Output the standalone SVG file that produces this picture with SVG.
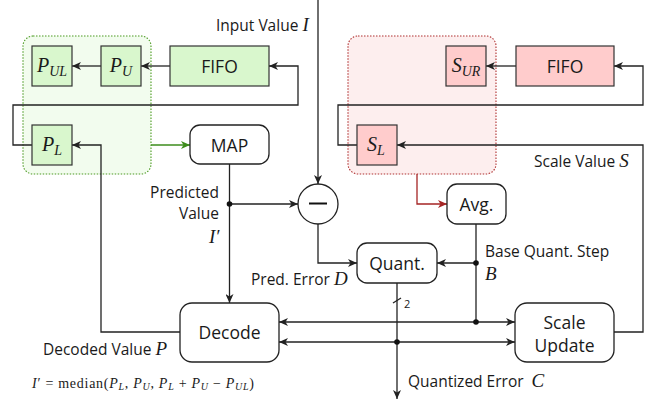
<svg xmlns="http://www.w3.org/2000/svg" width="653" height="399" viewBox="0 0 653 399">
<defs>
<marker id="ar" markerWidth="10" markerHeight="8" refX="9" refY="4" orient="auto" markerUnits="userSpaceOnUse">
<path d="M0,0 L9,4 L0,8 L2.5,4 z" fill="#222"/>
</marker>
<marker id="arg" markerWidth="10" markerHeight="8" refX="9" refY="4" orient="auto" markerUnits="userSpaceOnUse">
<path d="M0,0 L9,4 L0,8 L2.5,4 z" fill="#3d8c1c"/>
</marker>
<marker id="arr" markerWidth="10" markerHeight="8" refX="9" refY="4" orient="auto" markerUnits="userSpaceOnUse">
<path d="M0,0 L9,4 L0,8 L2.5,4 z" fill="#a52525"/>
</marker>
</defs>
<style>
.t{font-family:"Open Sans","DejaVu Sans",sans-serif;fill:#1a1a1a}
.m{font-family:"Liberation Serif","DejaVu Serif",serif;font-style:italic;fill:#1a1a1a}
.r{font-family:"Liberation Serif","DejaVu Serif",serif;fill:#1a1a1a}
.ln{fill:none;stroke:#222;stroke-width:1.3}
.gb{fill:#d9f7cd;stroke:#333;stroke-width:1.2}
.rb{fill:#ffcccc;stroke:#333;stroke-width:1.2}
.nb{fill:#fff;stroke:#222;stroke-width:1.3}
</style>

<g id="green-group"><rect x="23" y="36" width="128" height="138" rx="10" fill="#f2fcee" stroke="#4c9a22" stroke-width="1.1" stroke-dasharray="1.5,1.5"/></g>
<g id="red-group"><rect x="348" y="36" width="148" height="138" rx="10" fill="#fdeeee" stroke="#b03030" stroke-width="1.1" stroke-dasharray="1.5,1.5"/></g>

<g id="connectors">
<path class="ln" d="M170,66 H141" marker-end="url(#ar)"/>
<path class="ln" d="M101,66 H72" marker-end="url(#ar)"/>
<path class="ln" d="M72,145 H13 V105 H298 V66 H269" marker-end="url(#ar)"/>
<path class="ln" d="M180,332 H101 V145 H72" marker-end="url(#ar)"/>
<path d="M151,145 H190" fill="none" stroke="#3d8c1c" stroke-width="1.3" marker-end="url(#arg)"/>
<path class="ln" d="M229.5,164 V303" marker-end="url(#ar)"/>
<path class="ln" d="M229.5,204 H298" marker-end="url(#ar)"/>
<path class="ln" d="M318,0 V184" marker-end="url(#ar)"/>
<path class="ln" d="M318,224 V263 H357" marker-end="url(#ar)"/>
<path class="ln" d="M516,66 H486" marker-end="url(#ar)"/>
<path class="ln" d="M357,145 H338 V105 H643 V66 H614" marker-end="url(#ar)"/>
<path class="ln" d="M614,332 H643 V145 H397" marker-end="url(#ar)"/>
<path d="M417,174 V204 H447" fill="none" stroke="#a52525" stroke-width="1.3" marker-end="url(#arr)"/>
<path class="ln" d="M476,224 V322"/>
<path class="ln" d="M476,263 H437" marker-end="url(#ar)"/>
<path class="ln" d="M397,283 V399" marker-end="url(#ar)"/>
<path class="ln" d="M393,303 L401,298"/>
<path class="ln" d="M350,322 H279" marker-end="url(#ar)"/>
<path class="ln" d="M350,322 H515" marker-end="url(#ar)"/>
<path class="ln" d="M350,342 H279" marker-end="url(#ar)"/>
<path class="ln" d="M350,342 H515" marker-end="url(#ar)"/>
<circle cx="229.5" cy="204" r="2.8" fill="#111"/>
<circle cx="476" cy="263" r="2.8" fill="#111"/>
<circle cx="476" cy="322" r="2.8" fill="#111"/>
<circle cx="397" cy="342" r="2.8" fill="#111"/>
</g>

<g id="PUL"><rect class="gb" x="32" y="46" width="40" height="40"/><text class="m" x="52" y="72" font-size="20" text-anchor="middle">P<tspan font-size="14" dy="4">UL</tspan></text></g>
<g id="PU"><rect class="gb" x="101" y="46" width="40" height="40"/><text class="m" x="121" y="72" font-size="20" text-anchor="middle">P<tspan font-size="14" dy="4">U</tspan></text></g>
<g id="FIFO-green"><rect class="gb" x="170" y="46" width="99" height="40"/><text class="t" x="219.5" y="72.5" font-size="17.5" text-anchor="middle">FIFO</text></g>
<g id="PL"><rect class="gb" x="32" y="125" width="40" height="40"/><text class="m" x="52" y="151" font-size="20" text-anchor="middle">P<tspan font-size="14" dy="4">L</tspan></text></g>
<g id="MAP"><rect class="nb" x="190" y="125" width="79" height="39" rx="10"/><text class="t" x="229.5" y="151.5" font-size="17.5" text-anchor="middle">MAP</text></g>
<g id="SUR"><rect class="rb" x="446" y="46" width="40" height="40"/><text class="m" x="466" y="72" font-size="20" text-anchor="middle">S<tspan font-size="14" dy="4">UR</tspan></text></g>
<g id="FIFO-red"><rect class="rb" x="516" y="46" width="98" height="40"/><text class="t" x="565" y="72.5" font-size="17.5" text-anchor="middle">FIFO</text></g>
<g id="SL"><rect class="rb" x="357" y="125" width="40" height="40"/><text class="m" x="376" y="151" font-size="20" text-anchor="middle">S<tspan font-size="14" dy="4">L</tspan></text></g>
<g id="minus"><circle class="nb" cx="318" cy="204" r="20"/><line x1="309" y1="203.5" x2="327" y2="203.5" stroke="#111" stroke-width="2"/></g>
<g id="Avg"><rect class="nb" x="447" y="184" width="59" height="40" rx="10"/><text class="t" x="476.5" y="210.5" font-size="17.5" text-anchor="middle">Avg.</text></g>
<g id="Quant"><rect class="nb" x="357" y="243" width="80" height="40" rx="10"/><text class="t" x="397" y="269.5" font-size="17.5" text-anchor="middle">Quant.</text></g>
<g id="Decode"><rect class="nb" x="180" y="303" width="99" height="59" rx="12"/><text class="t" x="229.5" y="338.5" font-size="17.5" text-anchor="middle">Decode</text></g>
<g id="ScaleUpdate"><rect class="nb" x="515" y="303" width="99" height="59" rx="12"/><text class="t" x="564.5" y="328.5" font-size="17.5" text-anchor="middle">Scale</text><text class="t" x="564.5" y="351.5" font-size="17.5" text-anchor="middle">Update</text></g>

<g id="labels">
<text class="t" x="216" y="31" font-size="15.5">Input Value <tspan class="m" font-size="19">I</tspan></text>
<text class="t" x="219" y="198" font-size="15.5" text-anchor="end">Predicted</text>
<text class="t" x="219" y="219" font-size="15.5" text-anchor="end">Value</text>
<text class="m" x="209" y="243" font-size="19">I′</text>
<text class="t" x="251" y="285" font-size="15.5">Pred. Error <tspan class="m" font-size="19">D</tspan></text>
<text class="t" x="43" y="355" font-size="15.5">Decoded Value <tspan class="m" font-size="19">P</tspan></text>
<text class="t" x="485" y="257" font-size="15.5">Base Quant. Step</text>
<text class="m" x="485" y="280" font-size="19">B</text>
<text class="t" x="534" y="167" font-size="15.5">Scale Value <tspan class="m" font-size="19">S</tspan></text>
<text class="t" x="408" y="387" font-size="15.5">Quantized Error <tspan class="m" font-size="19" dx="4">C</tspan></text>
<text class="t" x="404" y="308" font-size="11">2</text>
<text class="r" x="32" y="388" font-size="14" textLength="222" lengthAdjust="spacing"><tspan class="m">I</tspan>′ = median(<tspan class="m">P</tspan><tspan class="m" font-size="10" dy="2">L</tspan><tspan dy="-2">, </tspan><tspan class="m">P</tspan><tspan class="m" font-size="10" dy="2">U</tspan><tspan dy="-2">, </tspan><tspan class="m">P</tspan><tspan class="m" font-size="10" dy="2">L</tspan><tspan dy="-2"> + </tspan><tspan class="m">P</tspan><tspan class="m" font-size="10" dy="2">U</tspan><tspan dy="-2"> − </tspan><tspan class="m">P</tspan><tspan class="m" font-size="10" dy="2">UL</tspan><tspan dy="-2">)</tspan></text>
</g>
</svg>
